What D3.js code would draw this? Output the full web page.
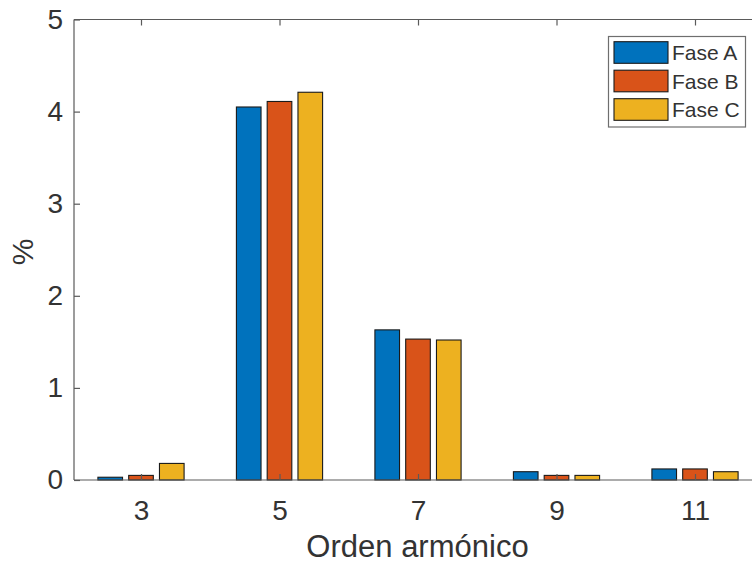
<!DOCTYPE html>
<html>
<head>
<meta charset="utf-8">
<script src="https://cdn.jsdelivr.net/npm/d3@7"></script>
<style>
  html, body { margin: 0; padding: 0; background: #ffffff; }
  svg { display: block; }
  text { font-family: "Liberation Sans", Arial, Helvetica, sans-serif; fill: #333333; }
</style>
</head>
<body>
<svg id="chart" width="752" height="563"></svg>
<script>
// ---- data ----
const categories = [3, 5, 7, 9, 11];
const seriesNames = ["Fase A", "Fase B", "Fase C"];
const faseA = [0.03, 4.05, 1.63, 0.09, 0.12];
const faseB = [0.05, 4.11, 1.53, 0.05, 0.12];
const faseC = [0.18, 4.21, 1.52, 0.05, 0.09];
const yTickValues = [0, 1, 2, 3, 4, 5];
const xLabel = "Orden armónico";
const yLabel = "%";

const colors = ["#0072BD", "#D95319", "#EDB120"];
const seriesValues = [faseA, faseB, faseC];

// ---- layout ----
const svg = d3.select("#chart");
const pLeft = 74, pRight = 766, pTop = 19.5, pBottom = 480;
const x = d3.scaleLinear().domain([3, 11]).range([141, 695]);
const y = d3.scaleLinear().domain([0, 5]).range([pBottom, pTop]);

const slot = 2 * Math.min(0.8, 3 / (3 + 1.5)) / 3; // MATLAB grouped bar slot
const barW = 0.8 * slot;
const axisColor = "#5a5a5a";
const tickLen = 6;

// ---- bars ----
const barsG = svg.append("g");
seriesValues.forEach((vals, si) => {
  barsG.selectAll(null)
    .data(categories.map((c, i) => ({ c, v: vals[i] })))
    .enter().append("rect")
    .attr("x", d => x(d.c + (si - 1) * slot - barW / 2))
    .attr("width", d => x(d.c + barW / 2) - x(d.c - barW / 2))
    .attr("y", d => y(d.v))
    .attr("height", d => y(0) - y(d.v))
    .attr("fill", colors[si])
    .attr("stroke", "#1a1a1a")
    .attr("stroke-width", 1.1);
});

// ---- axes ----
const xAxisB = d3.axisBottom(x).tickValues(categories).tickSize(-tickLen).tickPadding(20);
const gxb = svg.append("g").attr("transform", `translate(0,${pBottom})`).call(xAxisB);
const xAxisT = d3.axisTop(x).tickValues(categories).tickSize(-tickLen).tickFormat("");
const gxt = svg.append("g").attr("transform", `translate(0,${pTop})`).call(xAxisT);
const yAxis = d3.axisLeft(y).tickValues(yTickValues).tickSize(-tickLen).tickPadding(11).tickFormat(d3.format("d"));
const gy = svg.append("g").attr("transform", `translate(${pLeft},0)`).call(yAxis);

[gxb, gxt, gy].forEach(g => {
  g.select(".domain").attr("stroke", axisColor).attr("stroke-width", 1.2);
  g.selectAll(".tick line").attr("stroke", axisColor).attr("stroke-width", 1.2);
  g.selectAll(".tick text")
    .attr("fill", "#333333")
    .style("font-family", "'Liberation Sans', Arial, sans-serif")
    .style("font-size", "28px");
});
gxb.selectAll(".domain").attr("d", `M${pLeft},0H${pRight}`);
gxt.selectAll(".domain").attr("d", `M${pLeft},0H${pRight}`);
gy.selectAll(".domain").attr("d", `M0,${pBottom}V${pTop}`);
gxb.selectAll(".tick text").attr("dy", "0.71em");

// ---- labels ----
svg.append("text")
  .attr("x", x(7) - 0.5)
  .attr("y", 557)
  .attr("text-anchor", "middle")
  .style("font-size", "31px")
  .text(xLabel);

svg.append("text")
  .attr("transform", `translate(33,252) rotate(-90)`)
  .attr("text-anchor", "middle")
  .style("font-size", "30px")
  .text(yLabel);

// ---- legend ----
const lg = svg.append("g");
lg.append("rect")
  .attr("x", 608.5).attr("y", 36.5)
  .attr("width", 137).attr("height", 90.5)
  .attr("fill", "#ffffff").attr("stroke", "#6e6e6e").attr("stroke-width", 1.2);
const rowY = d3.scalePoint().domain(seriesNames).range([52.5, 109.5]);
seriesNames.forEach((name, i) => {
  lg.append("rect")
    .attr("x", 614).attr("y", rowY(name) - 10.8)
    .attr("width", 54).attr("height", 21.6)
    .attr("fill", colors[i]).attr("stroke", "#1a1a1a").attr("stroke-width", 1.1);
  lg.append("text")
    .attr("x", 672).attr("y", rowY(name))
    .attr("dy", "0.36em")
    .style("font-size", "21px")
    .text(name);
});
</script>
</body>
</html>
